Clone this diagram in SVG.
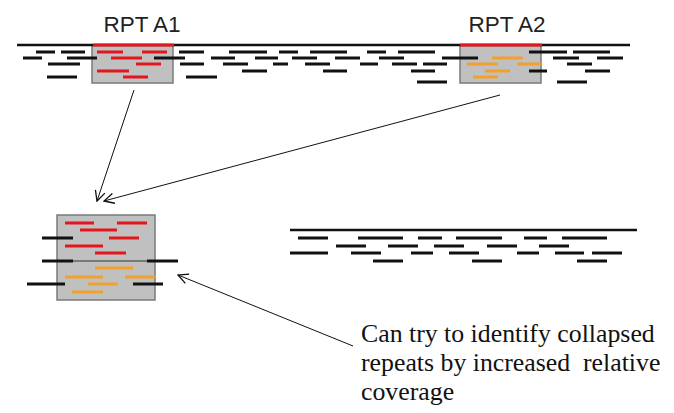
<svg xmlns="http://www.w3.org/2000/svg" width="674" height="413" viewBox="0 0 674 413">
<style>
.bk{stroke:#111;stroke-width:3;fill:none}
.rd{stroke:#e4161d;stroke-width:3;fill:none}
.or{stroke:#f2a22c;stroke-width:3;fill:none}
.box{fill:#c0c0c0;stroke:#7a7a7a;stroke-width:1.5}
.ref{stroke:#111;stroke-width:2.5;fill:none}
.lbl{font-family:"Liberation Sans",Arial,sans-serif;font-size:22.5px;fill:#222}
.note{font-family:"Liberation Serif","Times New Roman",serif;font-size:25.8px;fill:#111;white-space:pre}
.arr{stroke:#111;stroke-width:1;fill:none}
</style>
<defs>
<marker id="oa" viewBox="0 0 12 12" refX="11" refY="6" markerWidth="12" markerHeight="12" markerUnits="userSpaceOnUse" orient="auto">
<path d="M1,1 L11,6 L1,11" fill="none" stroke="#111" stroke-width="1.3"/>
</marker>
</defs>

<g id="top-genome">
<rect class="box" x="92" y="45" width="81" height="38"/>
<rect class="box" x="460" y="45" width="81" height="38"/>
<line class="ref" x1="17" y1="45" x2="630" y2="45"/>
<line class="rd" x1="93" y1="45" x2="174" y2="45"/>
<line class="rd" x1="460" y1="45" x2="542" y2="45"/>
<path class="bk" d="M36,52H55M61,52H85M179,52H204M229,52H267M279,52H298M310,52H347M367,52H386M398,52H435M529,52H567M573,52H610
M23,58H42M67,58H97M154,58H185M211,58H235M255,58H278M292,58H317M335,58H360M379,58H404M442,58H478M553,58H579M597,58H623
M48,64H80M180,64H204M223,64H248M273,64H288M305,64H330M360,64H378M392,64H417M423,64H447M567,64H592
M242,71H267M323,71H347M411,71H435M529,71H547M585,71H610
M47,77H77M186,77H217M417,82H447M557,82H587"/>
<path class="rd" d="M97,52H123M142,52H167M111,58H142M136,64H161M97,71H129M123,77H148"/>
<path class="or" d="M492,58H523M467,64H498M517,64H541M485,71H510M473,77H498"/>
</g>

<g id="label-a1"><text class="lbl" x="142" y="32" text-anchor="middle">RPT A1</text></g>
<g id="label-a2"><text class="lbl" x="507" y="32" text-anchor="middle">RPT A2</text></g>

<g id="collapsed">
<rect class="box" x="57" y="215" width="98" height="85"/>
<line x1="57" y1="261" x2="155" y2="261" stroke="#333" stroke-width="1"/>
<path class="rd" d="M65,223H94M117,223H147M80,230H117M109,238H139M65,246H103M95,253H126"/>
<path class="or" d="M95,268H133M65,277H103M125,277H155M88,284H118M72,292H103"/>
<path class="bk" d="M42,238H73M42,261H73M147,261H178M27,284H65M133,284H163"/>
</g>

<g id="right-genome">
<line class="ref" x1="290" y1="230" x2="637" y2="230"/>
<path class="bk" d="M298,238H328M358,238H403M418,238H442M456,238H502M524,238H547M562,238H607
M336,246H366M388,246H418M434,246H464M487,246H517M539,246H569
M290,253H328M351,253H381M411,253H433M449,253H479M517,253H539M555,253H584M592,253H622
M373,261H403M472,261H502M577,261H607"/>
</g>

<g id="connectors">
<line class="arr" x1="134" y1="90" x2="97" y2="201" marker-end="url(#oa)"/>
<line class="arr" x1="500" y1="95" x2="104" y2="201" marker-end="url(#oa)"/>
<line class="arr" x1="353" y1="346" x2="178" y2="275" marker-end="url(#oa)"/>
</g>

<g id="note">
<text class="note" x="361" y="342">Can try to identify collapsed</text>
<text class="note" x="361" y="371">repeats by increased  relative</text>
<text class="note" x="361" y="400">coverage</text>
</g>
</svg>
